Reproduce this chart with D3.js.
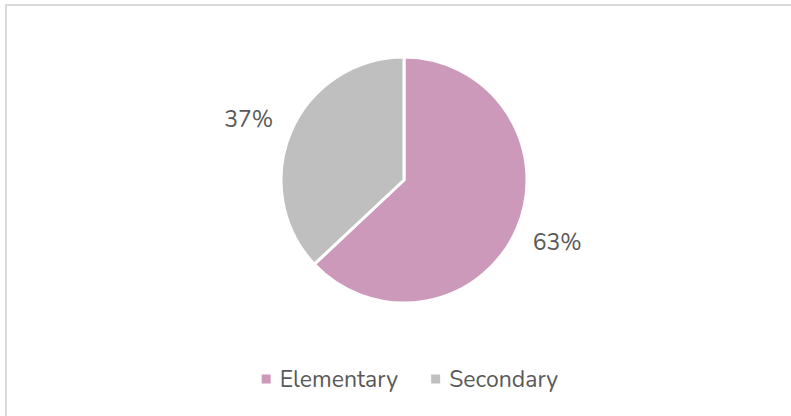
<!DOCTYPE html>
<meta charset="utf-8">
<script src="https://d3js.org/d3.v7.min.js"></script>
<style>
  body { margin: 0; background: #fff; }
  text { font-family: "Nunito", "Open Sans", sans-serif; fill: #595959; }
</style>
<body>
<div id="chart"></div>
<script>
  // data
  const categories = ["Elementary", "Secondary"];
  const values = [63, 37];
  const colors = ["#cc99bb", "#bfbfbf"];

  const width = 791, height = 416;
  const cx = 404, cy = 180, radius = 123;

  const svg = d3.select("#chart").append("svg")
      .attr("width", width)
      .attr("height", height);

  // chart border (only top and left visible)
  svg.append("rect")
      .attr("x", 6).attr("y", 5)
      .attr("width", width + 10).attr("height", height + 10)
      .attr("fill", "none")
      .attr("stroke", "#d9d9d9")
      .attr("stroke-width", 2);

  const data = categories.map((c, i) => ({name: c, value: values[i], color: colors[i]}));

  const pie = d3.pie().sort(null).value(d => d.value);
  const arcs = pie(data);
  const arc = d3.arc().innerRadius(0).outerRadius(radius);
  const labelArc = d3.arc().innerRadius(167).outerRadius(167);

  const g = svg.append("g").attr("transform", `translate(${cx},${cy})`);

  g.selectAll("path")
    .data(arcs)
    .join("path")
      .attr("d", arc)
      .attr("fill", d => d.data.color)
      .attr("stroke", "#fff")
      .attr("stroke-width", 3)
      .attr("stroke-linejoin", "round");

  g.selectAll("text.lbl")
    .data(arcs)
    .join("text")
      .attr("class", "lbl")
      .attr("transform", d => {
        const [x, y] = labelArc.centroid(d);
        return `translate(${x + (d.index === 0 ? 0 : -2)},${y + (d.index === 0 ? -4 : 6)})`;
      })
      .attr("text-anchor", "middle")
      .attr("dominant-baseline", "central")
      .style("font-size", "23px")
      .text(d => d.data.value + "%");

  // legend
  const legend = svg.append("g").attr("transform", "translate(0,379)");
  const items = legend.selectAll("g")
    .data(data)
    .join("g");
  items.append("rect")
      .attr("width", 9).attr("height", 9)
      .attr("y", -4.5)
      .attr("fill", d => d.color);
  items.append("text")
      .attr("x", 18)
      .attr("dominant-baseline", "central")
      .style("font-size", "23px")
      .text(d => d.name);

  // lay out legend entries centred
  let widths = [];
  items.each(function() { widths.push(this.getBBox().width); });
  const gap = 33;
  const total = d3.sum(widths) + gap * (widths.length - 1);
  let x0 = 410 - total / 2;
  items.attr("transform", (d, i) => {
    const t = `translate(${x0},0)`;
    x0 += widths[i] + gap;
    return t;
  });
</script>
</body>
